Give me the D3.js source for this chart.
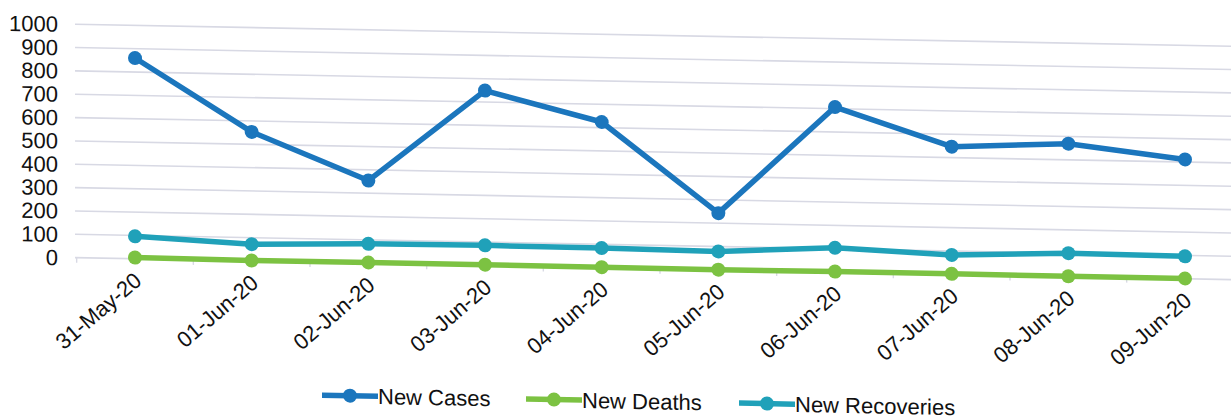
<!DOCTYPE html>
<html>
<head>
<meta charset="utf-8">
<script src="https://cdn.jsdelivr.net/npm/d3@7/dist/d3.min.js"></script>
<style>
  html, body { margin: 0; padding: 0; background: #ffffff; }
  svg { display: block; }
  text { font-family: "Liberation Sans", Arial, sans-serif; fill: #111; }
</style>
</head>
<body>
<svg id="chart" width="1231" height="419"></svg>
<script>
// ---- data ----
const dates = ["31-May-20","01-Jun-20","02-Jun-20","03-Jun-20","04-Jun-20","05-Jun-20","06-Jun-20","07-Jun-20","08-Jun-20","09-Jun-20"];
const newCases = [860, 553, 354, 749, 624, 243, 707, 547, 569, 511];
const newDeaths = [5, 2, 3, 3, 2, 1, 2, 2, 1, 1];
const newRecoveries = [96, 72, 83, 86, 84, 79, 104, 83, 100, 96];
const yTicks = [0,100,200,300,400,500,600,700,800,900,1000];
const seriesNames = ["New Cases","New Deaths","New Recoveries"];
const seriesColors = ["#1b76bd","#7cc242","#20a1b9"];

const series = [newCases, newDeaths, newRecoveries].map((vals, i) => ({
  name: seriesNames[i], color: seriesColors[i],
  values: vals.map((v, j) => ({date: dates[j], v}))
}));

const svg = d3.select("#chart");
// the scanned chart is slightly skewed
const g = svg.append("g").attr("transform", "skewY(1.09)");

const x = d3.scalePoint().domain(dates).range([135, 1185]);
const y = d3.scaleLinear().domain([0, 1000]).range([256.2, 22.8]);
const step = x.step();

// gridlines
g.append("g").selectAll("line").data(yTicks).join("line")
  .attr("x1", 75).attr("x2", 1240)
  .attr("y1", d => y(d)).attr("y2", d => y(d))
  .attr("stroke", "#d8d9e4").attr("stroke-width", 1.6);

// category tick marks below axis
const tickXs = d3.range(dates.length + 1).map(i => x(dates[0]) - step / 2 + i * step);
g.append("g").selectAll("line").data(tickXs).join("line")
  .attr("x1", d => d).attr("x2", d => d)
  .attr("y1", y(0)).attr("y2", y(0) + 5)
  .attr("stroke", "#d8d9e4").attr("stroke-width", 1.4);

// y axis labels
g.append("g").selectAll("text").data(yTicks).join("text")
  .attr("x", 58).attr("y", d => y(d)).attr("dy", "0.36em")
  .attr("text-anchor", "end").attr("font-size", 22)
  .text(d => d);

// x labels
g.append("g").selectAll("text").data(dates).join("text")
  .attr("text-anchor", "end").attr("font-size", 22)
  .attr("transform", d => `translate(${x(d) + 8},${y(0) + 24}) rotate(-41)`)
  .text(d => d);

// lines + markers
const line = d3.line().x(d => x(d.date)).y(d => y(d.v));
const sg = g.append("g").selectAll("g").data(series).join("g");
sg.append("path")
  .attr("d", d => line(d.values))
  .attr("fill", "none").attr("stroke", d => d.color)
  .attr("stroke-width", 5.5).attr("stroke-linejoin", "round");
sg.each(function(s) {
  d3.select(this).selectAll("circle").data(s.values).join("circle")
    .attr("cx", d => x(d.date)).attr("cy", d => y(d.v))
    .attr("r", 7).attr("fill", s.color);
});

// legend
const legendX = [322, 526, 739];
const lg = g.append("g").selectAll("g").data(series).join("g")
  .attr("transform", (d, i) => `translate(${legendX[i]},389)`);
lg.append("line").attr("x1", 0).attr("x2", 56).attr("y1", 0).attr("y2", 0)
  .attr("stroke", d => d.color).attr("stroke-width", 5.5);
lg.append("circle").attr("cx", 28).attr("cy", 0).attr("r", 7).attr("fill", d => d.color);
lg.append("text").attr("x", 56).attr("y", 0).attr("dy", "0.36em")
  .attr("font-size", 22).text(d => d.name);
</script>
</body>
</html>
